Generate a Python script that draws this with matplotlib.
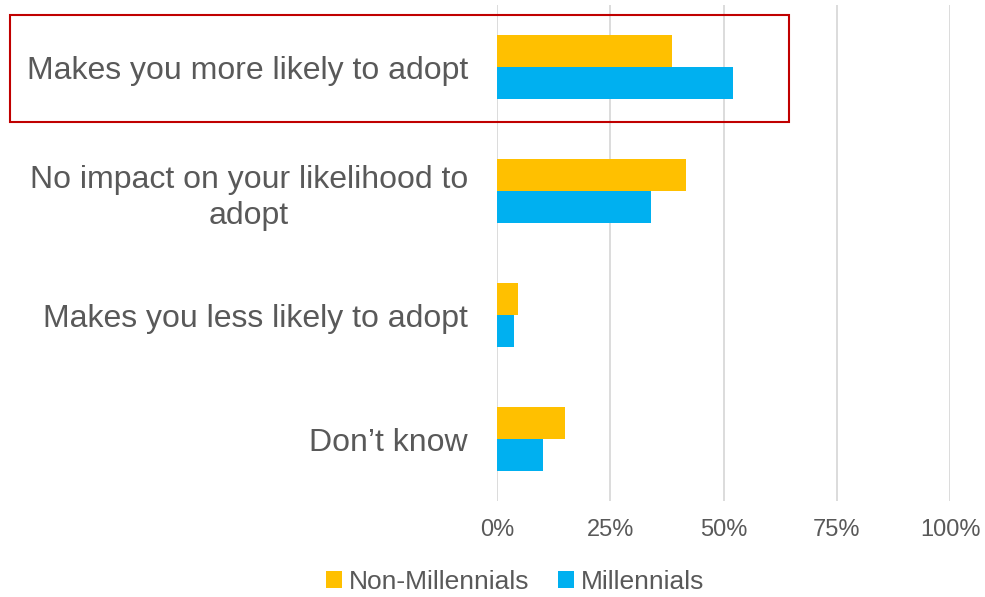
import matplotlib.pyplot as plt
import numpy as np
from matplotlib.patches import Rectangle

plt.rcParams['font.family'] = ['Liberation Sans', 'DejaVu Sans']

# Survey answers, top to bottom
categories = [
    "Makes you more likely to adopt",
    "No impact on your likelihood to\nadopt",
    "Makes you less likely to adopt",
    "Don\u2019t know",
]
non_millennials = [0.387, 0.417, 0.046, 0.151]
millennials = [0.521, 0.340, 0.037, 0.102]
xticks = [0, 0.25, 0.5, 0.75, 1.0]
xtick_labels = ["0%", "25%", "50%", "75%", "100%"]

yellow = "#FFC000"
blue = "#00B0F0"
text_grey = "#595959"

fig = plt.figure(figsize=(9.85, 5.97), dpi=100)
ax = fig.add_axes([0.5046, 0.1608, 0.4599, 0.8308])

y = np.arange(len(categories))
h = 0.258
ax.barh(y - h / 2, non_millennials, height=h, color=yellow, label="Non-Millennials", zorder=3)
ax.barh(y + h / 2, millennials, height=h, color=blue, label="Millennials", zorder=3)

ax.set_ylim(len(categories) - 0.5, -0.5)
ax.set_xlim(0, 1.0)
ax.set_xticks(xticks)
ax.set_xticklabels(xtick_labels)
ax.set_yticks(y)
ax.set_yticklabels(categories, multialignment="center", linespacing=1.3)

ax.tick_params(axis="x", length=0, pad=13, labelsize=17, labelcolor=text_grey)
ax.tick_params(axis="y", length=0, pad=21, labelsize=23, labelcolor=text_grey)

ax.grid(axis="x", color="#d9d9d9", linewidth=1.3, zorder=0)
for s in ax.spines.values():
    s.set_visible(False)

# highlight box around the first answer
fig.patches.append(Rectangle((10 / 985, 1 - 122 / 597), 779 / 985, 107 / 597,
                             transform=fig.transFigure, fill=False,
                             edgecolor="#C00000", linewidth=1.5))

leg = fig.legend(loc="center", bbox_to_anchor=(515 / 985, 1 - 582 / 597), ncol=2,
                 frameon=False, fontsize=19, handlelength=0.6, handleheight=0.6,
                 handletextpad=0.25, columnspacing=1.1)
for t in leg.get_texts():
    t.set_color(text_grey)

fig.savefig("out.png", dpi=100)
